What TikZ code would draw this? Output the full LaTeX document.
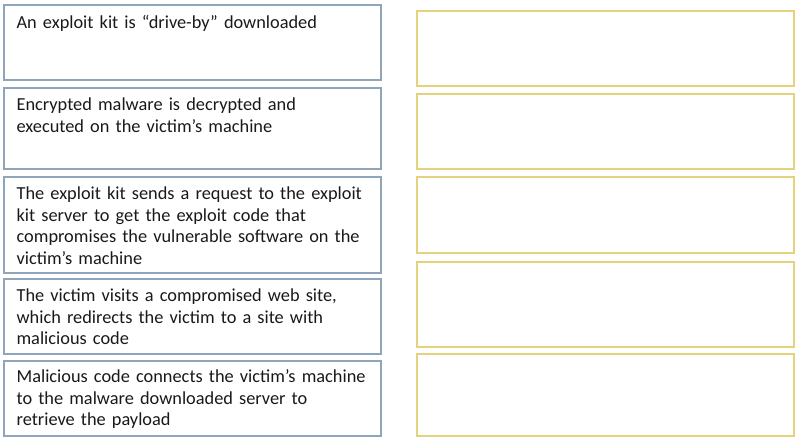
\documentclass[tikz,border=0pt]{standalone}
\usepackage{fontspec}
\setmainfont{Carlito}
\usetikzlibrary{fit}
\definecolor{stepblue}{RGB}{143,166,186}
\definecolor{slotyellow}{RGB}{228,210,125}
\tikzset{
  leftbox/.style={draw=stepblue, line width=1pt, inner sep=0pt},
  slotbox/.style={draw=slotyellow, line width=1pt, inner sep=0pt},
  steptext/.style={anchor=north west, inner sep=0pt, align=left, text width=275pt,
    font=\fontsize{13.75pt}{16.2pt}\selectfont, text=black!90}
}
\begin{document}
\begin{tikzpicture}[x=0.75pt, y=-0.75pt]
    \useasboundingbox (0,0) rectangle (801,443);

    % Schritte links
    \node[leftbox, fit={(4,5) (381,80)}] (s1) {};
    \node[leftbox, fit={(4,88) (381,169)}] (s2) {};
    \node[leftbox, fit={(4,177) (381,273)}] (s3) {};
    \node[leftbox, fit={(4,279) (381,354)}] (s4) {};
    \node[leftbox, fit={(4,361) (381,436)}] (s5) {};

    \node[steptext] (t1) at ([shift={(13,9)}]s1.north west) {\strut An exploit kit is “drive-by” downloaded};
    \node[steptext] (t2) at ([shift={(13,8)}]s2.north west) {\strut Encrypted malware is decrypted and\\ executed on the victim’s machine};
    \node[steptext] (t3) at ([shift={(13,8)}]s3.north west) {\strut The exploit kit sends a request to the exploit\\ kit server to get the exploit code that\\ compromises the vulnerable software on the\\ victim’s machine};
    \node[steptext] (t4) at ([shift={(13,8)}]s4.north west) {\strut The victim visits a compromised web site,\\ which redirects the victim to a site with\\ malicious code};
    \node[steptext] (t5) at ([shift={(13,7)}]s5.north west) {\strut Malicious code connects the victim’s machine\\ to the malware downloaded server to\\ retrieve the payload};

    % leere Felder rechts
    \node[slotbox, fit={(417,11) (794,86)}] (r1) {};
    \node[slotbox, fit={(417,94) (794,169)}] (r2) {};
    \node[slotbox, fit={(417,177) (794,253)}] (r3) {};
    \node[slotbox, fit={(417,262) (794,347)}] (r4) {};
    \node[slotbox, fit={(417,354) (794,436)}] (r5) {};
\end{tikzpicture}
\end{document}
